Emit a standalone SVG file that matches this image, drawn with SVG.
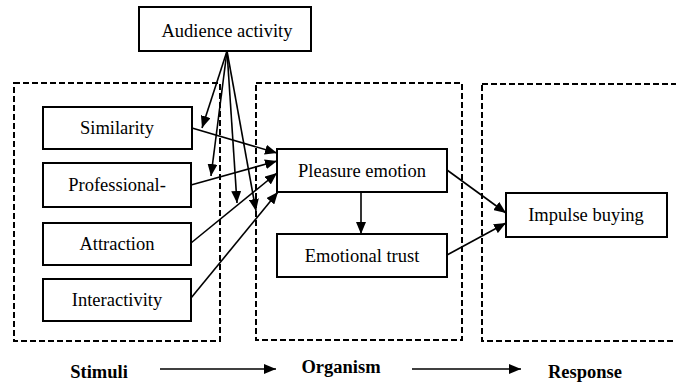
<svg xmlns="http://www.w3.org/2000/svg" width="676" height="385" viewBox="0 0 676 385">
<style>
.box{fill:#fff;stroke:#000;stroke-width:2}
.dash{fill:none;stroke:#000;stroke-width:2;stroke-dasharray:6,3}
text{font-family:'Liberation Serif','DejaVu Serif',serif;fill:#000;text-anchor:middle}
.t{font-size:18.5px}
.b{font-size:18.5px;font-weight:bold}
.c{fill:none;stroke:#000;stroke-width:1.6;marker-end:url(#ah)}
</style>
<defs>
<marker id="ah" viewBox="0 0 12 10" refX="12" refY="5" markerWidth="12" markerHeight="10" markerUnits="userSpaceOnUse" orient="auto">
<path d="M0,0 L12,5 L0,10 Z" fill="#000"/>
</marker>
</defs>
<g id="stages">
<rect class="dash" x="14" y="83" width="206" height="258"/>
<rect class="dash" x="256" y="83" width="206" height="257"/>
<rect class="dash" x="482" y="84" width="210" height="257"/>
</g>
<g id="audience"><rect class="box" x="139" y="7" width="172" height="44"/><text class="t" x="227" y="37">Audience activity</text></g>
<g id="similarity"><rect class="box" x="43" y="107" width="149" height="42"/><text class="t" x="117" y="134">Similarity</text></g>
<g id="professional"><rect class="box" x="43" y="163" width="148" height="44"/><text class="t" x="117" y="191">Professional-</text></g>
<g id="attraction"><rect class="box" x="43" y="223" width="148" height="42"/><text class="t" x="117" y="250">Attraction</text></g>
<g id="interactivity"><rect class="box" x="43" y="279" width="148" height="42"/><text class="t" x="117" y="306">Interactivity</text></g>
<g id="pleasure"><rect class="box" x="277" y="149" width="170" height="43"/><text class="t" x="362" y="177">Pleasure emotion</text></g>
<g id="trust"><rect class="box" x="277" y="234" width="170" height="43"/><text class="t" x="362" y="262">Emotional trust</text></g>
<g id="impulse"><rect class="box" x="506" y="193" width="161" height="44"/><text class="t" x="586" y="221">Impulse buying</text></g>
<g id="connectors">
<line class="c" x1="227" y1="51" x2="202" y2="128"/>
<line class="c" x1="227" y1="51" x2="211" y2="176"/>
<line class="c" x1="227" y1="51" x2="237" y2="203"/>
<line class="c" x1="227" y1="51" x2="256" y2="211"/>
<line class="c" x1="192" y1="128" x2="277" y2="153"/>
<line class="c" x1="191" y1="185" x2="277" y2="161"/>
<line class="c" x1="191" y1="243" x2="277" y2="173"/>
<line class="c" x1="191" y1="298" x2="278" y2="192"/>
<line class="c" x1="361" y1="192" x2="361" y2="234"/>
<line class="c" x1="447" y1="170" x2="506" y2="213"/>
<line class="c" x1="447" y1="255" x2="506" y2="223"/>
<line class="c" x1="160" y1="369" x2="276" y2="369"/>
<line class="c" x1="412" y1="369" x2="521" y2="369"/>
</g>
<g id="labels">
<text class="b" x="99" y="378">Stimuli</text>
<text class="b" x="341" y="373">Organism</text>
<text class="b" x="585" y="378">Response</text>
</g>
</svg>
